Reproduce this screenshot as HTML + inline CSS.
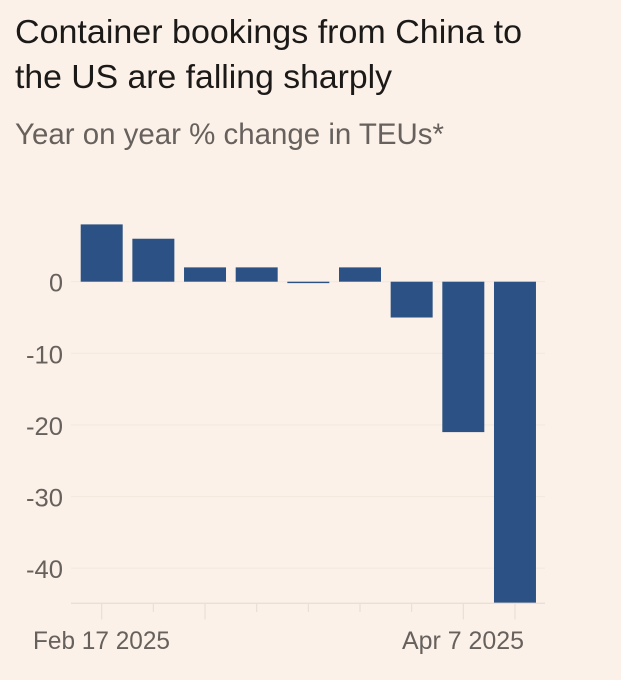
<!DOCTYPE html>
<html lang="en">
<head>
<meta charset="utf-8">
<title>Container bookings from China to the US</title>
<style>
  html, body { margin: 0; padding: 0; background: #fcf1e8; }
  body { width: 621px; height: 680px; overflow: hidden; }
  svg { display: block; font-family: "Liberation Sans", sans-serif; }
</style>
</head>
<body>
<svg id="chart" width="621" height="680" viewBox="0 0 621 680">
  <rect width="621" height="680" fill="#fcf1e8"/>
  <text x="15" y="43" font-size="33" fill="#1c1a19" textLength="507" lengthAdjust="spacingAndGlyphs">Container bookings from China to</text>
  <text x="15" y="88" font-size="33" fill="#1c1a19" textLength="377" lengthAdjust="spacingAndGlyphs">the US are falling sharply</text>
  <text x="15" y="144" font-size="30" fill="#67615d" textLength="429" lengthAdjust="spacingAndGlyphs">Year on year % change in TEUs*</text>
  <g id="grid"></g>
  <g id="yaxis"></g>
  <g id="bars"></g>
  <g id="xaxis"></g>
</svg>
<script>
const categories = ["Feb 17 2025", "Feb 24 2025", "Mar 3 2025", "Mar 10 2025", "Mar 17 2025", "Mar 24 2025", "Mar 31 2025", "Apr 7 2025", "Apr 14 2025"];
const bookingsChange = [8, 6, 2, 2, -0.2, 2, -5, -21, -45];
const yTicks = [0, -10, -20, -30, -40];
const yTickLabels = ["0", "-10", "-20", "-30", "-40"];
const longTickCategories = ["Feb 17 2025", "Mar 3 2025", "Apr 7 2025", "Apr 14 2025"];
const xLabelCategories = ["Feb 17 2025", "Apr 7 2025"];

const NS = "http://www.w3.org/2000/svg";
const yMin = -44.9, yZeroPx = 281.7, yBottomPx = 603.3;
const left = 71, right = 545;
const band0 = 101.7, bandStep = 51.66, barWidth = 42;

function yScale(v) {
  return yZeroPx + (yBottomPx - yZeroPx) * (v / yMin);
}
function xScale(i) {
  return band0 + bandStep * i;
}
function make(parent, tag, attrs) {
  const el = document.createElementNS(NS, tag);
  for (const k in attrs) el.setAttribute(k, attrs[k]);
  parent.appendChild(el);
  return el;
}

const grid = document.getElementById("grid");
const yaxis = document.getElementById("yaxis");
yTicks.forEach(function (t, i) {
  const line = make(grid, "line", { x1: left, x2: right, y1: yScale(t), y2: yScale(t), stroke: "#f3e9df", "stroke-width": 1.2 });
  
  
  const label = make(yaxis, "text", { x: 63, y: yScale(t) + 10, "text-anchor": "end", "font-size": 25, fill: "#67615d", textLength: t === 0 ? 14 : 37, lengthAdjust: "spacingAndGlyphs" });
  label.textContent = yTickLabels[i];
  
  
});

const bars = document.getElementById("bars");
bookingsChange.forEach(function (v, i) {
  const clipped = Math.max(v, yMin);
  const y0 = yScale(Math.max(clipped, 0));
  const y1 = yScale(Math.min(clipped, 0));
  const bar = make(bars, "rect", { x: xScale(i) - barWidth / 2, y: y0, width: barWidth, height: y1 - y0, fill: "#2c5285" });
  
  
});

const xaxis = document.getElementById("xaxis");
const axisLine = make(xaxis, "line", { x1: left, x2: right, y1: yBottomPx, y2: yBottomPx, stroke: "#e9dfd5", "stroke-width": 1.4 });


categories.forEach(function (c, i) {
  const isLong = longTickCategories.includes(c);
  const tick = make(xaxis, "line", { x1: xScale(i), x2: xScale(i), y1: yBottomPx, y2: isLong ? 619.5 : 612, stroke: "#e9dfd5", "stroke-width": 1.2 });
  
  
});
xLabelCategories.forEach(function (c) {
  const i = categories.indexOf(c);
  const label = make(xaxis, "text", { x: i === 0 ? 33 : 402, y: 649, "font-size": 25, fill: "#67615d", textLength: i === 0 ? 137 : 122, lengthAdjust: "spacingAndGlyphs" });
  label.textContent = c;
  
  
});
</script>
</body>
</html>
